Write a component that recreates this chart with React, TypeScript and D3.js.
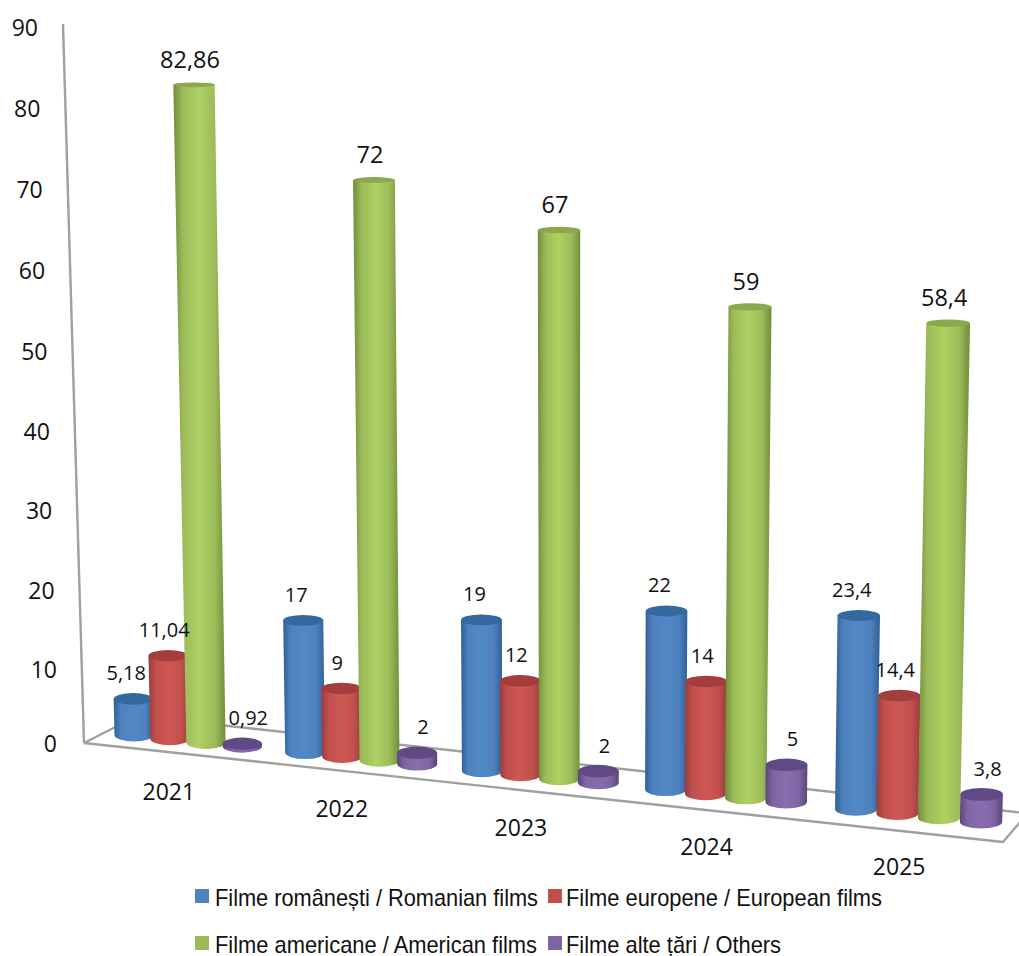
import React from "react";
import * as d3 from "d3";

const years = ["2021", "2022", "2023", "2024", "2025"];
const seriesNames = ["Romanian", "European", "American", "Others"];
const legendLabels = [
  "Filme românești / Romanian films",
  "Filme europene / European films",
  "Filme americane / American films",
  "Filme alte țări / Others",
];
const romanian = [5.18, 17, 19, 22, 23.4];
const european = [11.04, 9, 12, 14, 14.4];
const american = [82.86, 72, 67, 59, 58.4];
const others = [0.92, 2, 2, 5, 3.8];
const seriesValues = [romanian, european, american, others];
const valueTicks = [0, 10, 20, 30, 40, 50, 60, 70, 80, 90];

const baseColor = ["#4f81bd", "#c0504d", "#9bbb59", "#8064a2"];
const lightColor = ["#5089c8", "#cf5753", "#aed162", "#8a6db0"];
const edgeColor = ["#2f5f96", "#9a3c3c", "#708d3a", "#5c467e"];
const capColor = ["#34689f", "#a33e3c", "#8ba84c", "#5f4a85"];
const labelDx = [-7, -4, -4, 6];
const labelSize = [20, 20, 23.5, 20];

// Band scales lay the bars on the floor, then a perspective map turns floor position into pixels.
const groupBand = d3.scaleBand<string>().domain(years).range([0, 4.85]).paddingInner(0.15).paddingOuter(0);
const seriesBand = d3.scaleBand<string>().domain(seriesNames).range([0, groupBand.bandwidth()]);
const firstCentre = seriesBand.step() / 2;
const PA = 168.05;
const PC = 0.01724;
const perspX = (s: number) => {
  const t = s - firstCentre;
  return 134 + (PA * t) / (1 - PC * t);
};
const baseY = d3.scaleLinear().domain([134, 981]).range([735, 822]);
const barWidth = d3.scaleLinear().domain([134, 981]).range([39, 42.3]);
const unitPx = d3.scaleLinear().domain([0, 1000]).range([7.84, 8.6]);
const capRy = d3.scaleLinear().domain([88, 790]).range([2.4, 6.4]).clamp(true);
const axisLabelY = d3.scaleLinear().domain([0, 10, 50, 90]).range([743, 669, 351, 27]);
const axisLabelX = d3.scaleLinear().domain([0, 10, 90]).range([57, 57, 38]);

const font = "'Open Sans', sans-serif";

function Bar({ year, si, value }: { year: string; si: number; value: number }) {
  const s = (groupBand(year) as number) + (seriesBand(seriesNames[si]) as number) + firstCentre;
  const x = perspX(s);
  const y0 = baseY(x);
  const rx = barWidth(x) / 2;
  const h = Math.max(1, value * unitPx(x) - 5);
  const topY = y0 - h;
  const topX = x + (x - 570) * 5e-5 * h;
  const topRx = rx * (1 + h * 8e-5);
  const ryB = 6.5;
  const ryT = capRy(topY);
  const d =
    `M${x - rx},${y0} L${topX - topRx},${topY} L${topX + topRx},${topY} L${x + rx},${y0} ` +
    `A${rx},${ryB} 0 0 1 ${x - rx},${y0} Z`;
  return (
    <g>
      <path d={d} fill={`url(#cyl${si})`} />
      <ellipse cx={topX} cy={topY} rx={topRx} ry={ryT} fill={capColor[si]} />
    </g>
  );
}

function BarLabel({ year, si, value }: { year: string; si: number; value: number }) {
  const s = (groupBand(year) as number) + (seriesBand(seriesNames[si]) as number) + firstCentre;
  const x = perspX(s);
  const y0 = baseY(x);
  const h = Math.max(1, value * unitPx(x) - 5);
  const topX = x + (x - 570) * 5e-5 * h;
  return (
    <text
      x={topX + labelDx[si]}
      y={y0 - h - 26}
      textAnchor="middle"
      dominantBaseline="central"
      fontFamily={font}
      fontSize={labelSize[si]}
      fill="#111"
    >
      {String(value).replace(".", ",")}
    </text>
  );
}

export default function App() {
  const legendPos = [
    { sq: 195, tx: 215, y: 897, w: 323 },
    { sq: 548, tx: 566, y: 897, w: 316 },
    { sq: 195, tx: 215, y: 944, w: 322 },
    { sq: 548, tx: 566, y: 944, w: 215 },
  ];
  return (
    <svg
      width={1019}
      height={956}
      viewBox="0 0 1019 956"
      style={{ position: "absolute", left: 0, top: 0, background: "#fff" }}
    >
      <defs>
        {seriesNames.map((_, i) => (
          <linearGradient key={i} id={`cyl${i}`} x1="0" x2="1" y1="0" y2="0">
            <stop offset="0" stopColor={edgeColor[i]} />
            <stop offset="0.18" stopColor={baseColor[i]} />
            <stop offset="0.5" stopColor={lightColor[i]} />
            <stop offset="0.8" stopColor={baseColor[i]} />
            <stop offset="1" stopColor={edgeColor[i]} />
          </linearGradient>
        ))}
      </defs>
      {/* wall and floor */}
      <g fill="none" stroke="#a0a0a0" strokeWidth={2.4} strokeLinejoin="round">
        <path d="M63,24 L84,743" />
        <path d="M84,743 L1003,842 L1021,821" />
        <path d="M84,743 L137,716 L1025,813" />
      </g>
      {valueTicks.map((t) => (
        <text
          key={t}
          x={axisLabelX(t)}
          y={axisLabelY(t)}
          textAnchor="end"
          dominantBaseline="central"
          fontFamily={font}
          fontSize={23}
          fill="#111"
        >
          {t}
        </text>
      ))}
      {years.map((yr) => {
        const cx = perspX((groupBand(yr) as number) + groupBand.bandwidth() / 2) - 19;
        return (
          <text
            key={yr}
            x={cx}
            y={baseY(cx) + 52}
            textAnchor="middle"
            dominantBaseline="central"
            fontFamily={font}
            fontSize={23}
            fill="#111"
          >
            {yr}
          </text>
        );
      })}
      {years.map((yr, i) => (
        <g key={yr}>
          {seriesValues.map((vals, si) => (
            <Bar key={si} year={yr} si={si} value={vals[i]} />
          ))}
        </g>
      ))}
      {years.map((yr, i) => (
        <g key={yr}>
          {seriesValues.map((vals, si) => (
            <BarLabel key={si} year={yr} si={si} value={vals[i]} />
          ))}
        </g>
      ))}
      {legendLabels.map((lab, i) => {
        const p = legendPos[i];
        return (
          <g key={lab}>
            <rect x={p.sq} y={p.y - 8} width={14} height={14} fill={baseColor[i]} />
            <text
              x={p.tx}
              y={p.y}
              dominantBaseline="central"
              fontFamily="'Liberation Sans', Arial, sans-serif"
              fontSize={24}
              fill="#111"
              textLength={p.w}
              lengthAdjust="spacingAndGlyphs"
            >
              {lab}
            </text>
          </g>
        );
      })}
    </svg>
  );
}
